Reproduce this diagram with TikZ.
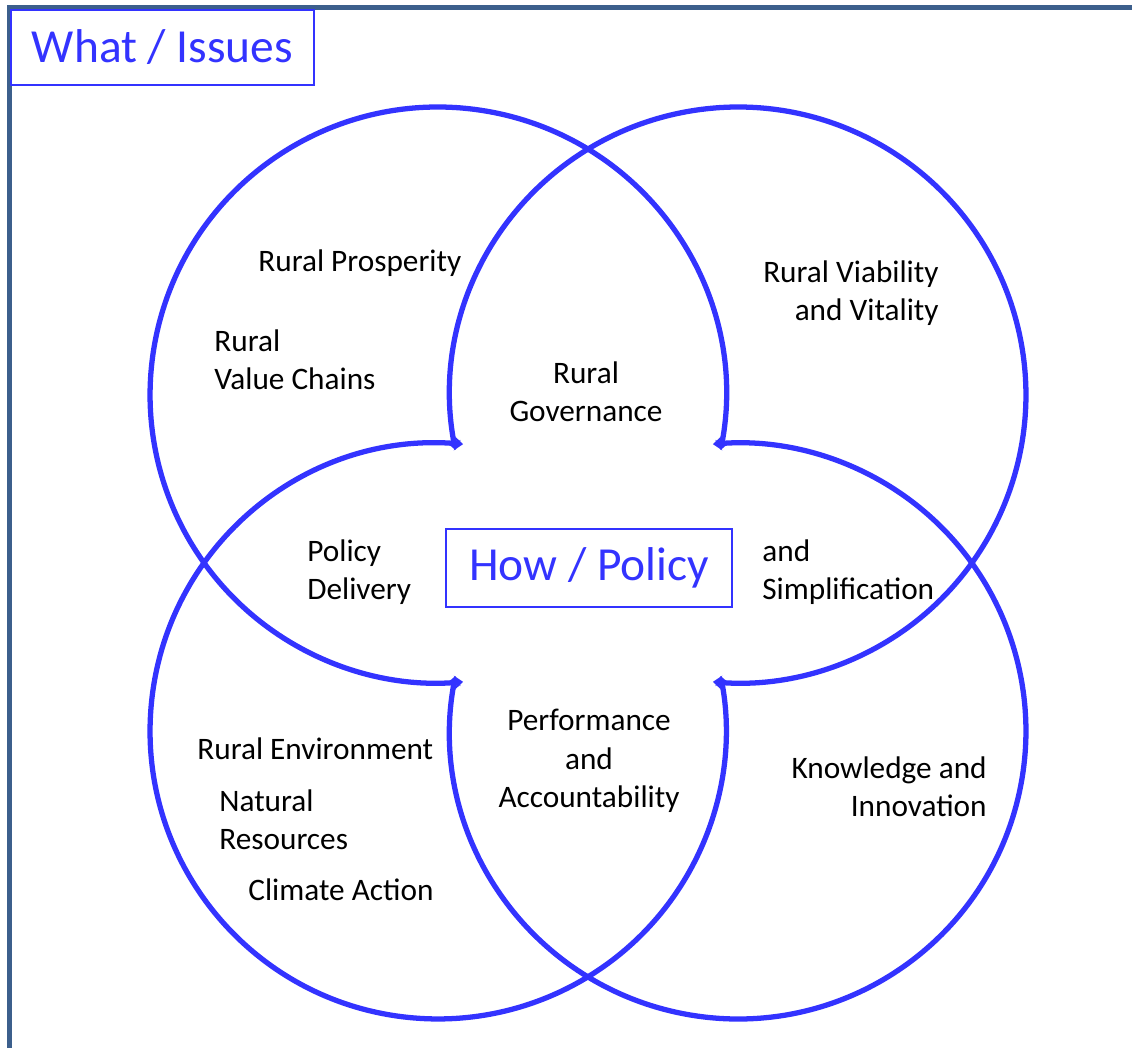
\documentclass[tikz,border=0pt]{standalone}
\usepackage{fontspec}
\setmainfont{Carlito}
\usepackage{tikz}
\usetikzlibrary{arrows.meta}

\definecolor{venn}{HTML}{3333FF}
\definecolor{frameblue}{HTML}{3C5F8C}

\tikzset{
  ring/.style={draw=venn, line width=3pt,
    {Stealth[length=5pt,width=8pt]}-{Stealth[length=5pt,width=8pt]}},
  label/.style={inner sep=0pt, font=\fontsize{17.8}{21.8}\selectfont},
  titlebox/.style={draw=venn, line width=1pt, text=venn, inner sep=0pt,
    font=\fontsize{27}{32}\selectfont}
}

\begin{document}
\begin{tikzpicture}[x=0.02cm,y=0.02cm]
            \useasboundingbox (0,0) rectangle (1132,-1048);

            % The frame
            \draw[frameblue, line width=3pt] (7,-7.5) -- (1132,-7.5);
            \draw[frameblue, line width=3pt] (9.5,-5) -- (9.5,-1048);

            % Place the circle centres
            \coordinate (tl) at (438,-395);
            \coordinate (tr) at (738,-395);
            \coordinate (bl) at (438,-731);
            \coordinate (br) at (738,-731);

            % The circles!
            \draw[ring] ([shift={(-11:5.76cm)}]tl) arc[start angle=-11, end angle=275, radius=5.76cm];
            \draw[ring] ([shift={(191:5.76cm)}]tr) arc[start angle=191, end angle=-95, radius=5.76cm];
            \draw[ring] ([shift={(85:5.76cm)}]bl) arc[start angle=85, end angle=371, radius=5.76cm];
            \draw[ring] ([shift={(169:5.76cm)}]br) arc[start angle=169, end angle=455, radius=5.76cm];

            % Place the titles
            \node[titlebox, minimum width=6.06cm, minimum height=1.5cm, fill=white] (what) at (162.5,-47.5) {What / Issues};
            \node[titlebox, minimum width=5.72cm, minimum height=1.56cm] (how) at (589,-568) {How / Policy};

            % Place the issues
            \node[label, anchor=west] (prosp) at (258,-263) {Rural Prosperity};
            \node[label, anchor=west, align=left] (chains) at (214,-360) {Rural\\Value Chains};
            \node[label, anchor=east, align=right] (viab) at (939,-293.5) {Rural Viability\\and Vitality};
            \node[label, align=center] (gov) at (586,-392) {Rural\\Governance};
            \node[label, anchor=west, align=left] (deliv) at (307,-572) {Policy\\Delivery};
            \node[label, anchor=west, align=left] (simpl) at (762,-572) {and\\Simplification};
            \node[label, align=center] (perf) at (589,-761) {Performance\\and\\Accountability};
            \node[label, anchor=west] (env) at (197,-749) {Rural Environment};
            \node[label, anchor=west, align=left] (natres) at (219,-820) {Natural\\Resources};
            \node[label, anchor=west] (climate) at (248,-890) {Climate Action};
            \node[label, anchor=east, align=right] (know) at (987,-787) {Knowledge and\\Innovation};
        \end{tikzpicture}
\end{document}
